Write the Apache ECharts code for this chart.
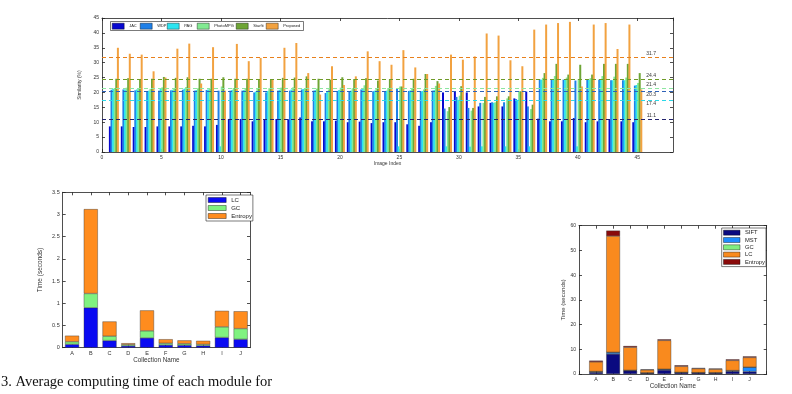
<!DOCTYPE html>
<html><head><meta charset="utf-8">
<script src="https://cdn.jsdelivr.net/npm/echarts@6/dist/echarts.min.js"></script>
<style>html,body{margin:0;padding:0;background:#fff}#c{width:792px;height:394px}</style>
</head><body><div id="c"></div>
<script>
// ---------- data: top chart ----------
const imageIndex = [1,2,3,4,5,6,7,8,9,10,11,12,13,14,15,16,17,18,19,20,21,22,23,24,25,26,27,28,29,30,31,32,33,34,35,36,37,38,39,40,41,42,43,44,45];
const methodNames = ['JAC','WDP','PAG','PhotoMPG','Starfit','Proposed'];
const jac = [8.6,8.6,8.4,8.4,8.6,8.6,8.6,8.8,8.6,9.1, 11.1,11.1,10.3,10.9,11.1,11.0,11.6,10.3,10.3,10.5, 10.0,10.2,9.7,10.0,10.0,9.3,8.8,10.0, 20.0,20.3,20.0,15.3,16.5,15.3,18.0,20.3, 11.2,10.3,10.3,11.4,10.0,10.3,10.9,10.3,10.0];
const wdp = [20.9,21.0,20.7,20.3,20.6,20.7,20.9,20.6,20.8,20.6, 20.6,20.6,20.0,20.0,20.6,20.6,21.0,20.6,19.8,20.5, 20.3,21.0,20.4,20.3,21.2,20.5,20.3,20.6, 14.6,18.5,14.8,16.5,16.7,16.7,17.8,15.3, 24.3,24.3,24.3,24.0,24.3,24.3,24.1,24.1,22.3];
const pag = [21.2,21.0,21.0,20.6,21.2,20.9,21.3,20.8,21.0,1.9, 20.8,20.8,20.3,20.5,20.9,21.0,21.2,20.8,20.2,20.8, 20.6,21.3,20.6,20.6,1.9,20.7,20.5,20.8, 1.9,17.5,1.8,1.9,16.5,1.9,17.5,1.9, 24.3,24.3,24.3,1.9,24.3,24.3,24.1,24.1,22.5];
const photoMPG = [21.5,21.6,21.4,21.2,21.7,21.5,21.8,21.4,21.5,22.0, 21.5,21.4,21.2,21.4,21.6,21.7,21.5,21.3,21.0,21.6, 21.4,22.4,21.4,21.5,22.0,21.5,21.0,22.2, 13.7,18.9,13.9,16.5,16.7,18.0,20.4,14.4, 24.9,25.5,25.0,24.5,24.8,25.5,25.3,25.0,23.2];
const starfit = [24.6,24.8,24.3,24.6,25.2,24.9,25.1,24.6,24.6,25.1, 24.6,24.6,24.3,24.3,24.9,25.0,25.4,24.6,24.3,25.1, 24.5,24.8,24.0,24.4,22.0,24.6,26.2,23.8, 15.1,22.1,14.8,18.5,18.7,18.7,20.4,15.9, 26.5,29.6,26.0,29.3,26.0,29.6,29.6,29.6,26.5];
const proposed = [35.0,33.0,32.7,27.1,25.0,34.7,36.4,23.0,35.2,20.6, 36.3,30.5,31.6,24.3,35.0,36.6,26.5,19.3,28.8,22.5, 25.4,33.8,30.5,29.3,34.2,28.4,26.2,23.0, 32.7,31.0,32.1,39.8,39.1,30.8,28.8,41.1, 42.8,43.3,43.7,22.0,42.8,43.3,34.6,42.8,21.0];
const averages = [11.1, 20.3, 17.4, 21.4, 24.4, 31.7];

// ---------- data: bottom-left chart ----------
const collections = ['A','B','C','D','E','F','G','H','I','J'];
const blNames = ['LC','GC','Entropy'];
const lcTime = [0.075,0.9,0.16,0.04,0.22,0.06,0.055,0.045,0.23,0.19];
const gcTime = [0.06,0.32,0.10,0.03,0.16,0.04,0.035,0.03,0.24,0.24];
const entropyTime = [0.135,1.9,0.33,0.03,0.46,0.09,0.075,0.08,0.36,0.39];

// ---------- data: bottom-right chart ----------
const brNames = ['SIFT','MST','GC','LC','Entropy'];
const siftTime2 = [0.7,8.1,1.3,0.4,1.6,0.55,0.5,0.45,1.1,1.0];
const mstTime2 = [0.25,0.6,0.15,0.05,0.3,0.1,0.05,0.05,0.25,1.7];
const gcTime2 = [0.05,0.1,0.05,0.02,0.05,0.02,0.02,0.02,0.05,0.1];
const lcTime2 = [3.9,47.0,9.3,1.2,11.65,2.43,1.6,1.45,4.1,3.9];
const entropyTime2 = [0.5,2.2,0.5,0.2,0.4,0.4,0.25,0.2,0.4,0.4];

const caption = '3. Average computing time of each module for';

// ---------- styles ----------
const FONT = '"Liberation Sans", Arial, sans-serif';
const topColors = ['#0808d0','#1f80e8','#2ce4f0','#82ea92','#6ea535','#f2a240'];
const avgColors = ['#23236e','#2f62b8','#2ad8e8','#8ce6a0','#6f9a28','#e8801c'];
const avgLabelPos = ['insideEndTop','insideEndBottom','insideEndBottom','insideEndTop','insideEndTop','insideEndTop'];
const topLegendX = [112,140,167,197,236,266];
const blColors = ['#0a0af2','#80f280','#ff8c1e'];
const brColors = ['#0a0a80','#1e8cff','#80ee80','#f98a1e','#8a0a0a'];

const axisLineStyle = {color:'#222', width:0.8};
function mkAxis(o, fs, hideLabel){
  const a = {
    axisLine:{show:true, onZero:false, lineStyle:axisLineStyle},
    axisTick:{show:true, inside:true, length:3, lineStyle:axisLineStyle},
    axisLabel:{show:!hideLabel, fontSize:fs, color:'#333', fontFamily:FONT, margin:3},
    splitLine:{show:false}
  };
  return Object.assign(a, o);
}

const grids = [
  {left:102, top:18, width:571, height:134},
  {left:62.7, top:192.3, width:187.3, height:155.4},
  {left:579, top:225.7, width:187.7, height:148.3}
];

const xAxes = [
  mkAxis({type:'value', gridIndex:0, min:0, max:48, interval:5, position:'bottom',
    name:'Image Index', nameLocation:'middle', nameGap:8,
    nameTextStyle:{fontSize:5, color:'#333', fontFamily:FONT}}, 5),
  mkAxis({type:'value', gridIndex:0, min:0, max:48, interval:5, position:'top'}, 5, true),
  mkAxis({type:'category', gridIndex:1, data:collections, position:'bottom',
    name:'Collection Name', nameLocation:'middle', nameGap:8.5,
    nameTextStyle:{fontSize:6.3, color:'#333', fontFamily:FONT}}, 5.5),
  mkAxis({type:'category', gridIndex:1, data:collections, position:'top'}, 5.5, true),
  mkAxis({type:'category', gridIndex:2, data:[''].concat(collections, ['']), boundaryGap:false, position:'bottom',
    name:'Collection Name', nameLocation:'middle', nameGap:8,
    nameTextStyle:{fontSize:6.3, color:'#333', fontFamily:FONT}}, 5.2),
  mkAxis({type:'category', gridIndex:2, data:[''].concat(collections, ['']), boundaryGap:false, position:'top'}, 5, true)
];
xAxes[0].axisLabel.showMaxLabel = false;
xAxes[1].axisLabel.showMaxLabel = false;
[2,3].forEach(i=>{ xAxes[i].axisTick.alignWithLabel = true; xAxes[i].axisTick.interval = 0; xAxes[i].axisLabel.interval = 0; });
[4,5].forEach(i=>{ xAxes[i].axisTick.interval = 0; xAxes[i].axisLabel.interval = 0; });

const yAxes = [
  mkAxis({type:'value', gridIndex:0, min:0, max:45, interval:5, position:'left',
    name:'Similarity (%)', nameLocation:'middle', nameGap:9.5,
    nameTextStyle:{fontSize:5, color:'#333', fontFamily:FONT}}, 5),
  mkAxis({type:'value', gridIndex:0, min:0, max:45, interval:5, position:'right'}, 5, true),
  mkAxis({type:'value', gridIndex:1, min:0, max:3.5, interval:0.5, position:'left',
    name:'Time (seconds)', nameLocation:'middle', nameGap:19,
    nameTextStyle:{fontSize:6.5, color:'#333', fontFamily:FONT}}, 5.5),
  mkAxis({type:'value', gridIndex:1, min:0, max:3.5, interval:0.5, position:'right'}, 5, true),
  mkAxis({type:'value', gridIndex:2, min:0, max:60, interval:10, position:'left',
    name:'Time (seconds)', nameLocation:'middle', nameGap:11,
    nameTextStyle:{fontSize:6, color:'#333', fontFamily:FONT}}, 5),
  mkAxis({type:'value', gridIndex:2, min:0, max:60, interval:10, position:'right'}, 5, true)
];

const series = [];
const topData = [jac, wdp, pag, photoMPG, starfit, proposed];
topData.forEach((vals,k)=>{
  series.push({
    type:'bar', name:methodNames[k], xAxisIndex:0, yAxisIndex:0,
    data: vals.map((v,i)=>[imageIndex[i], v]),
    barWidth:2, barGap:'-20%',
    itemStyle:{color:topColors[k]},
    markLine:{silent:true, symbol:['none','none'], z:5,
      data:[{yAxis:averages[k]}],
      lineStyle:{type:[4,3], color:avgColors[k], width:1.2},
      label:{show:true, position:avgLabelPos[k], formatter:averages[k].toFixed(1),
        fontSize:5, color:'#333', fontFamily:FONT, distance:[17,1]}}
  });
});
[lcTime, gcTime, entropyTime].forEach((vals,k)=>{
  series.push({type:'bar', name:blNames[k], stack:'bl', xAxisIndex:2, yAxisIndex:2,
    data:vals, barWidth:14,
    itemStyle:{color:blColors[k], borderColor:'#333', borderWidth:0.4}});
});
[siftTime2, mstTime2, gcTime2, lcTime2, entropyTime2].forEach((vals,k)=>{
  series.push({type:'bar', name:brNames[k], stack:'br', xAxisIndex:4, yAxisIndex:4,
    data:[null].concat(vals, [null]), barWidth:13.7,
    itemStyle:{color:brColors[k], borderColor:'#333', borderWidth:0.4}});
});

const legends = [];
methodNames.forEach((n,k)=>{
  legends.push({show:true, selectedMode:false, orient:'horizontal', left:topLegendX[k], top:23,
    padding:0, itemWidth:12, itemHeight:6, icon:'rect',
    textStyle:{fontSize:4, color:'#222', fontFamily:FONT},
    data:[{name:n, itemStyle:{color:topColors[k], borderColor:'#000', borderWidth:0.4}}]});
});
legends.push({show:true, selectedMode:false, orient:'vertical', left:206, top:195,
  padding:[2,1,2,2], itemWidth:18, itemHeight:5, itemGap:2, icon:'rect',
  backgroundColor:'#fff', borderColor:'#222', borderWidth:0.6,
  textStyle:{fontSize:6, lineHeight:6, color:'#222', fontFamily:FONT},
  data: blNames.map((n,k)=>({name:n, itemStyle:{color:blColors[k], borderColor:'#000', borderWidth:0.4}}))});
legends.push({show:true, selectedMode:false, orient:'vertical', left:721.7, top:228,
  padding:[1.7,1,1.7,1.6], itemWidth:16.5, itemHeight:5, itemGap:1.3, icon:'rect',
  backgroundColor:'#fff', borderColor:'#222', borderWidth:0.6,
  textStyle:{fontSize:5.8, lineHeight:6, color:'#222', fontFamily:FONT},
  data: brNames.map((n,k)=>({name:n, itemStyle:{color:brColors[k], borderColor:'#000', borderWidth:0.4}}))});

const option = {
  animation:false,
  backgroundColor:'#fff',
  title:{text:caption, left:1, top:375, padding:0,
    textStyle:{fontFamily:'"Liberation Serif", "DejaVu Serif", serif', fontSize:14.5, fontWeight:'normal', color:'#111'}},
  grid:grids, xAxis:xAxes, yAxis:yAxes, legend:legends, series:series,
  graphic:[{type:'rect', z:1, shape:{x:110.5, y:21.5, width:193, height:9},
    style:{fill:'#fff', stroke:'#222', lineWidth:0.6}}]
};
const chart = echarts.init(document.getElementById('c'), null, {renderer:'canvas'});
chart.setOption(option);
</script></body></html>
